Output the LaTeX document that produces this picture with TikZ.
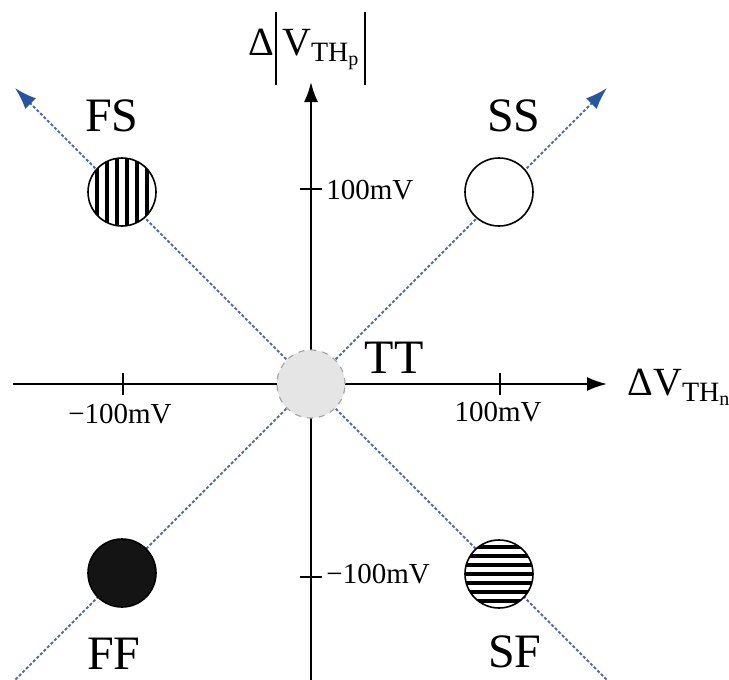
\documentclass[tikz,border=0pt]{standalone}
\usepackage{amsmath}
\usepackage{fontspec}
\setmainfont{Liberation Serif}
\usetikzlibrary{arrows.meta}
\definecolor{diagline}{RGB}{80,110,170}
\definecolor{diaghead}{RGB}{40,85,155}
\newcommand{\absbar}{\raisebox{-15pt}{\rule{1pt}{36.5pt}}}
\begin{document}
\begin{tikzpicture}[x=0.5pt,y=-0.5pt,
  axis/.style={line width=1pt,black},
  axisarrow/.style={axis,-{Latex[length=10pt,width=7pt]}},
  diag/.style={line width=1pt,diagline,dash pattern=on 1.5pt off 1pt},
  diagarrow/.style={diag,-{Latex[length=11pt,width=7.5pt,color=diaghead]}},
  tickmark/.style={line width=1pt,black},
  corner/.style={circle,draw=black,line width=0.8pt,minimum size=34pt,inner sep=0pt,fill=white},
  ticklabel/.style={font=\fontsize{14.5}{17}\selectfont,inner sep=0pt},
  cornerlabel/.style={font=\fontsize{24}{28}\selectfont,inner sep=0pt},
  axislabel/.style={font=\fontsize{20}{24}\selectfont,inner sep=0pt}]
\useasboundingbox (0,0) rectangle (729,680);
\fill[white] (0,0) rectangle (729,680);
% coordinates
\coordinate (O) at (311,384);
\coordinate (xl) at (13,384);
\coordinate (xr) at (607,384);
\coordinate (yb) at (311,681);
\coordinate (yt) at (311,82);
\coordinate (ul) at (15,88);
\coordinate (ur) at (607,88);
\coordinate (ll) at (14,681);
\coordinate (lr) at (608,681);
% diagonals
\draw[diagarrow] (O) -- (ul);
\draw[diagarrow] (O) -- (ur);
\draw[diag] (O) -- (ll);
\draw[diag] (O) -- (lr);
% axes
\draw[axisarrow] (xl) -- (xr);
\draw[axisarrow] (yb) -- (yt);
% ticks
\coordinate (tx1a) at (123,373); \coordinate (tx1b) at (123,395);
\coordinate (tx2a) at (500,373); \coordinate (tx2b) at (500,395);
\coordinate (ty1a) at (300,189); \coordinate (ty1b) at (322,189);
\coordinate (ty2a) at (300,577); \coordinate (ty2b) at (322,577);
\draw[tickmark] (tx1a) -- (tx1b);
\draw[tickmark] (tx2a) -- (tx2b);
\draw[tickmark] (ty1a) -- (ty1b);
\draw[tickmark] (ty2a) -- (ty2b);
% tick labels
\node[ticklabel] (lxm) at (120,414) {−100mV};
\node[ticklabel] (lxp) at (498,412) {100mV};
\node[ticklabel,anchor=west] (lyp) at (326,190) {100mV};
\node[ticklabel,anchor=west] (lym) at (326,574) {−100mV};
% corner circles
\node[corner,path picture={
  \foreach \i in {-3,...,2}
    \draw[line width=2pt,black] ([xshift={(\i+0.5)*5pt}]path picture bounding box.south) -- ([xshift={(\i+0.5)*5pt}]path picture bounding box.north);
  }] (FS) at (122,192) {};
\node[corner] (SS) at (499,192) {};
\node[corner,fill=black!92] (FF) at (122,573) {};
\node[corner,path picture={
  \foreach \i in {-3,...,3}
    \draw[line width=2pt,black] ([yshift={\i*4.5pt}]path picture bounding box.west) -- ([yshift={\i*4.5pt}]path picture bounding box.east);
  }] (SF) at (499,574) {};
\node[circle,draw=gray!70,dashed,line width=0.6pt,fill=gray!20,minimum size=34pt,inner sep=0pt] (TT) at (O) {};
% corner labels
\node[cornerlabel] (lFS) at (112,116) {FS};
\node[cornerlabel] (lSS) at (514,116) {SS};
\node[cornerlabel] (lFF) at (114,654) {FF};
\node[cornerlabel] (lSF) at (515,652) {SF};
\node[cornerlabel] (lTT) at (394,358) {TT};
% axis labels
\node[axislabel,anchor=base west] (lx) at (627,395) {ΔV$_{\text{TH}_{\text{n}}}$};
\node[axislabel,anchor=base west] (ly) at (248,55) {Δ\hspace{0.5pt}\absbar\hspace{2.5pt}V$_{\text{TH}_{\text{p}}}$\hspace{2pt}\absbar};
\end{tikzpicture}
\end{document}
